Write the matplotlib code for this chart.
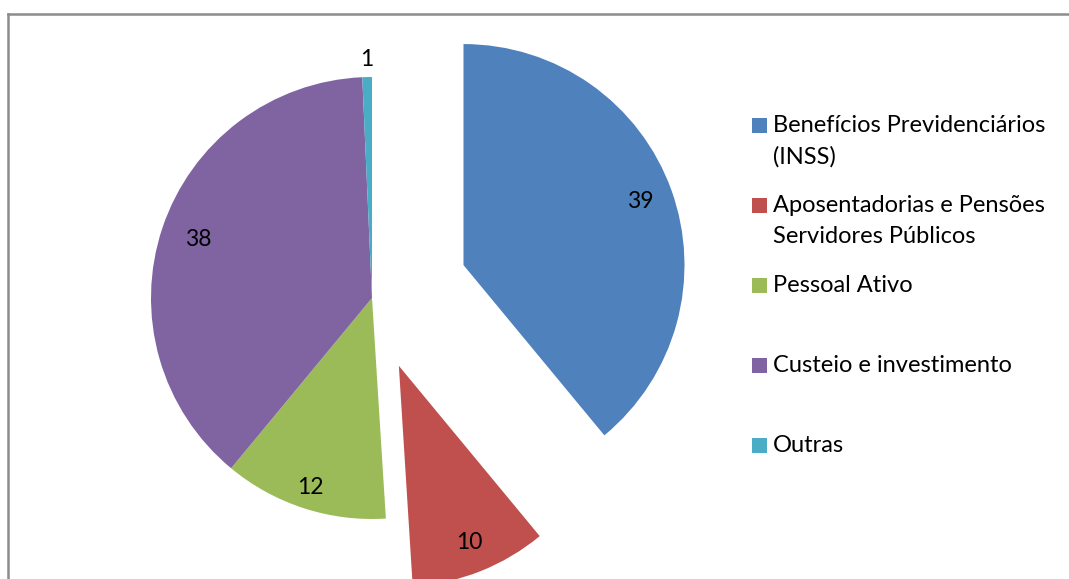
import numpy as np
import matplotlib.pyplot as plt
from matplotlib.lines import Line2D
from matplotlib.patches import Rectangle

# data
labels = ["Benefícios Previdenciários\n(INSS)",
          "Aposentadorias e Pensões\nServidores Públicos",
          "Pessoal Ativo",
          "Custeio e investimento",
          "Outras"]
values = [39, 10, 12, 38.3, 0.7]
colors = ["#4F81BD", "#C0504D", "#9BBB59", "#8064A2", "#4BACC6"]
explode = [0.44, 0.33, 0, 0, 0]
label_dist = [0.85, 0.86, 0.9, 0.83, 1.08]

plt.rcParams['font.family'] = ['Lato', 'DejaVu Sans']
W, H = 1069, 579
R = 221
fig = plt.figure(figsize=(W / 100, H / 100), dpi=100)
ax = fig.add_axes([0, 0, 1, 1])

# pie explode is in data units, so scale by radius
wedges, _ = ax.pie(values, colors=colors, explode=[e * R for e in explode],
                   startangle=90, counterclock=False, center=(372, H - 298),
                   radius=R, wedgeprops=dict(linewidth=0))

# value labels
for w, v, d in zip(wedges, values, label_dist):
    mid = np.deg2rad((w.theta1 + w.theta2) / 2)
    cx, cy = w.center
    ax.text(cx + d * w.r * np.cos(mid), cy + d * w.r * np.sin(mid),
            "%.0f" % v, ha='center', va='center', fontsize=16.5, color='black')

ax.set_xlim(0, W)
ax.set_ylim(0, H)
ax.set_aspect('equal')
ax.axis('off')

# legend drawn by hand so the square sits on the first line
leg_x, leg_top, step, line_step = 752, 125, 80, 31.5
for i, (lab, c) in enumerate(zip(labels, colors)):
    y = leg_top + i * step
    ax.add_patch(Rectangle((leg_x, H - y - 8), 15, 15, color=c, lw=0))
    for j, line in enumerate(lab.split("\n")):
        ax.text(leg_x + 21, H - y - j * line_step, line, ha='left',
                va='center', fontsize=17, color='black')

# chart border (cropped on right and bottom)
fig.add_artist(Line2D([8 / W, 8 / W], [0, (H - 14) / H], color='#8c8c8c', lw=1.8))
fig.add_artist(Line2D([8 / W, 1], [(H - 14) / H, (H - 14) / H], color='#8c8c8c', lw=1.8))

fig.savefig("out.png", dpi=100)
